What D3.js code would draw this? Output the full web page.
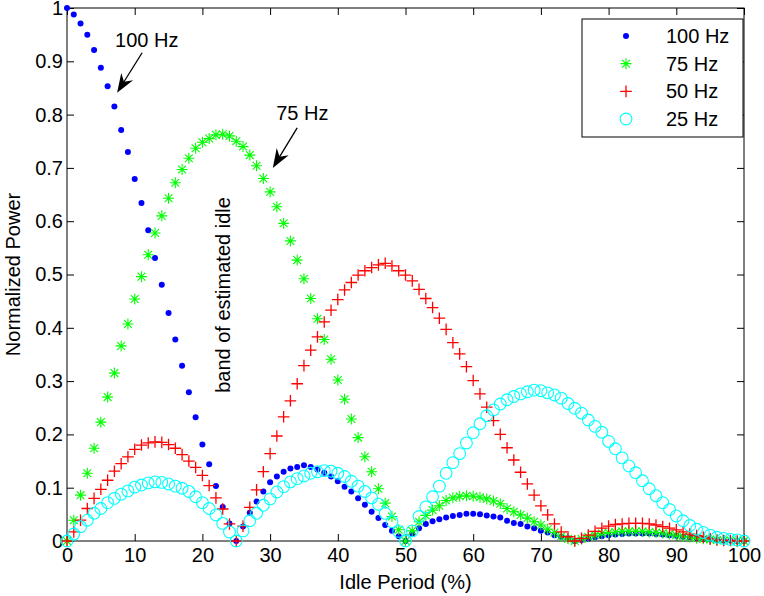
<!DOCTYPE html>
<html>
<head>
<meta charset="utf-8">
<script src="https://cdn.jsdelivr.net/npm/d3@7"></script>
<style>
  body { margin: 0; background: #fff; }
  svg text { font-family: "Liberation Sans", Arial, Helvetica, sans-serif; fill: #000; }
</style>
</head>
<body>
<svg id="chart" width="764" height="596"></svg>
<script>
// idle period (%) sampled every 1 %
var idle = d3.range(0, 101, 1);

var p100 = [
  1.000, 0.988, 0.971, 0.950, 0.921, 0.888, 0.853, 0.815, 0.771, 0.730,
  0.679, 0.634, 0.583, 0.531, 0.481, 0.428, 0.378, 0.329, 0.279, 0.232,
  0.181, 0.144, 0.103, 0.064, 0.033, 0.000, 0.027, 0.053, 0.074, 0.093,
  0.110, 0.121, 0.130, 0.136, 0.139, 0.142, 0.139, 0.134, 0.128, 0.121,
  0.112, 0.102, 0.093, 0.080, 0.068, 0.055, 0.043, 0.030, 0.019, 0.009,
  0.000, 0.014, 0.024, 0.032, 0.037, 0.041, 0.044, 0.047, 0.049, 0.051,
  0.051, 0.050, 0.048, 0.046, 0.044, 0.038, 0.034, 0.032, 0.027, 0.024,
  0.019, 0.016, 0.011, 0.008, 0.005, 0.000, 0.002, 0.004, 0.007, 0.009,
  0.011, 0.012, 0.013, 0.014, 0.014, 0.014, 0.014, 0.013, 0.012, 0.011,
  0.010, 0.008, 0.007, 0.005, 0.004, 0.003, 0.002, 0.001, 0.001, 0.000,
  0.000
];

var p75 = [
  0.000, 0.039, 0.086, 0.127, 0.174, 0.223, 0.270, 0.315, 0.366, 0.407,
  0.454, 0.496, 0.537, 0.578, 0.610, 0.643, 0.672, 0.697, 0.718, 0.737,
  0.748, 0.755, 0.762, 0.763, 0.760, 0.750, 0.740, 0.724, 0.704, 0.680,
  0.655, 0.627, 0.596, 0.563, 0.527, 0.492, 0.455, 0.417, 0.378, 0.341,
  0.302, 0.266, 0.229, 0.194, 0.158, 0.130, 0.098, 0.071, 0.046, 0.021,
  0.000, 0.019, 0.036, 0.048, 0.058, 0.066, 0.076, 0.081, 0.084, 0.085,
  0.084, 0.082, 0.079, 0.075, 0.070, 0.061, 0.055, 0.049, 0.043, 0.036,
  0.030, 0.022, 0.016, 0.009, 0.004, 0.000, 0.004, 0.008, 0.011, 0.014,
  0.016, 0.017, 0.018, 0.018, 0.018, 0.018, 0.017, 0.016, 0.015, 0.013,
  0.011, 0.009, 0.007, 0.005, 0.004, 0.003, 0.002, 0.001, 0.001, 0.000,
  0.000
];

var p50 = [
  0.000, 0.017, 0.039, 0.061, 0.080, 0.097, 0.114, 0.131, 0.145, 0.158,
  0.172, 0.180, 0.184, 0.186, 0.185, 0.181, 0.174, 0.162, 0.150, 0.138,
  0.123, 0.104, 0.081, 0.060, 0.032, 0.000, 0.028, 0.063, 0.096, 0.130,
  0.164, 0.197, 0.233, 0.263, 0.295, 0.329, 0.358, 0.383, 0.411, 0.433,
  0.453, 0.471, 0.485, 0.499, 0.507, 0.513, 0.518, 0.521, 0.516, 0.507,
  0.499, 0.488, 0.472, 0.455, 0.438, 0.418, 0.397, 0.372, 0.351, 0.327,
  0.301, 0.276, 0.251, 0.226, 0.200, 0.175, 0.152, 0.129, 0.107, 0.086,
  0.066, 0.049, 0.032, 0.017, 0.008, 0.000, 0.005, 0.011, 0.018, 0.024,
  0.028, 0.031, 0.032, 0.033, 0.033, 0.033, 0.032, 0.030, 0.027, 0.024,
  0.021, 0.017, 0.013, 0.010, 0.007, 0.004, 0.002, 0.001, 0.001, 0.000,
  0.000
];

var p25 = [
  0.000, 0.013, 0.027, 0.039, 0.052, 0.061, 0.072, 0.080, 0.088, 0.094,
  0.101, 0.105, 0.109, 0.111, 0.110, 0.107, 0.103, 0.099, 0.093, 0.083,
  0.072, 0.061, 0.049, 0.033, 0.017, 0.000, 0.019, 0.038, 0.052, 0.067,
  0.079, 0.092, 0.102, 0.111, 0.117, 0.122, 0.127, 0.130, 0.132, 0.131,
  0.127, 0.121, 0.112, 0.103, 0.093, 0.081, 0.069, 0.052, 0.036, 0.018,
  0.000, 0.019, 0.046, 0.064, 0.083, 0.103, 0.127, 0.147, 0.164, 0.184,
  0.203, 0.220, 0.235, 0.246, 0.257, 0.265, 0.271, 0.276, 0.280, 0.283,
  0.282, 0.278, 0.274, 0.268, 0.258, 0.249, 0.240, 0.227, 0.215, 0.204,
  0.187, 0.173, 0.156, 0.141, 0.128, 0.113, 0.098, 0.085, 0.072, 0.059,
  0.047, 0.038, 0.029, 0.022, 0.016, 0.011, 0.007, 0.005, 0.003, 0.002,
  0.000
];

var seriesNames = ["100 Hz", "75 Hz", "50 Hz", "25 Hz"];
var xTicks = [0, 10, 20, 30, 40, 50, 60, 70, 80, 90, 100];
var yTicks = [0, 0.1, 0.2, 0.3, 0.4, 0.5, 0.6, 0.7, 0.8, 0.9, 1];

var series = [
  { name: seriesNames[0], values: p100, shape: "dot", color: "#0000ff" },
  { name: seriesNames[1], values: p75, shape: "star", color: "#00ff00" },
  { name: seriesNames[2], values: p50, shape: "plus", color: "#ff0000" },
  { name: seriesNames[3], values: p25, shape: "ring", color: "#00ffff" }
];

var plotLeft = 67, plotRight = 744, plotTop = 8, plotBottom = 541;
var tickLen = 7;

var x = d3.scaleLinear().domain([0, 100]).range([plotLeft, plotRight]);
var y = d3.scaleLinear().domain([0, 1]).range([plotBottom, plotTop]);

var svg = d3.select("#chart");
svg.append("rect").attr("width", 764).attr("height", 596).attr("fill", "#fff");

// axes: ticks point inward on all four sides, like matlab
svg.append("g")
  .attr("transform", "translate(0," + plotBottom + ")")
  .call(d3.axisBottom(x).tickValues(xTicks).tickSize(-tickLen).tickPadding(7))
  .call(function (g) { g.select(".domain").remove(); });
svg.append("g")
  .attr("transform", "translate(0," + plotTop + ")")
  .call(d3.axisTop(x).tickValues(xTicks).tickSize(-tickLen).tickFormat(""))
  .call(function (g) { g.select(".domain").remove(); });
svg.append("g")
  .attr("transform", "translate(" + plotLeft + ",0)")
  .call(d3.axisLeft(y).tickValues(yTicks).tickSize(-tickLen).tickPadding(4)
    .tickFormat(function (d) { return String(d); }))
  .call(function (g) { g.select(".domain").remove(); });
svg.append("g")
  .attr("transform", "translate(" + plotRight + ",0)")
  .call(d3.axisRight(y).tickValues(yTicks).tickSize(-tickLen).tickFormat(""))
  .call(function (g) { g.select(".domain").remove(); });

svg.selectAll(".tick text").style("font-size", "20px").attr("fill", "#000");
svg.selectAll(".tick line").attr("stroke", "#000");

svg.append("rect")
  .attr("x", plotLeft).attr("y", plotTop)
  .attr("width", plotRight - plotLeft).attr("height", plotBottom - plotTop)
  .attr("fill", "none").attr("stroke", "#000").attr("stroke-width", 1);

function drawMarker(sel, shape, color) {
  if (shape === "dot") {
    sel.append("circle").attr("r", 3).attr("fill", color);
  } else if (shape === "star") {
    sel.append("path")
      .attr("d", "M-5.5,0H5.5M0,-5.5V5.5M-3.9,-3.9L3.9,3.9M-3.9,3.9L3.9,-3.9")
      .attr("stroke", color).attr("stroke-width", 1.1).attr("fill", "none");
  } else if (shape === "plus") {
    sel.append("path")
      .attr("d", "M-5.8,0H5.8M0,-5.8V5.8")
      .attr("stroke", color).attr("stroke-width", 1.3).attr("fill", "none");
  } else {
    sel.append("circle").attr("r", 5.9)
      .attr("fill", "none").attr("stroke", color).attr("stroke-width", 1.1);
  }
}

series.forEach(function (s) {
  var g = svg.append("g").attr("class", "series");
  g.selectAll("g")
    .data(idle)
    .enter()
    .append("g")
    .attr("transform", function (d, i) {
      return "translate(" + x(d) + "," + y(s.values[i]) + ")";
    })
    .each(function () { drawMarker(d3.select(this), s.shape, s.color); });
});

// axis labels
svg.append("text")
  .attr("x", (plotLeft + plotRight) / 2).attr("y", 589)
  .attr("text-anchor", "middle").style("font-size", "20px")
  .text("Idle Period (%)");
svg.append("text")
  .attr("transform", "translate(20," + (plotTop + plotBottom) / 2 + ")rotate(-90)")
  .attr("text-anchor", "middle").style("font-size", "20px")
  .text("Normalized Power");

// annotations (data coordinates)
var notes = [
  { label: "100 Hz", tx: 7.1, ty: 0.927, from: [11.1, 0.916], to: [7.4, 0.841] },
  { label: "75 Hz", tx: 30.9, ty: 0.790, from: [34.0, 0.775], to: [30.4, 0.700] }
];

notes.forEach(function (n) {
  svg.append("text")
    .attr("x", x(n.tx)).attr("y", y(n.ty))
    .style("font-size", "20px")
    .text(n.label);
  var x0 = x(n.from[0]), y0 = y(n.from[1]);
  var x1 = x(n.to[0]), y1 = y(n.to[1]);
  var ang = Math.atan2(y1 - y0, x1 - x0) * 180 / Math.PI;
  var len = Math.hypot(x1 - x0, y1 - y0);
  var a = svg.append("g")
    .attr("transform", "translate(" + x0 + "," + y0 + ")rotate(" + ang + ")");
  a.append("line")
    .attr("x1", 0).attr("y1", 0).attr("x2", len - 10).attr("y2", 0)
    .attr("stroke", "#000").attr("stroke-width", 1.3);
  a.append("path")
    .attr("d", "M" + len + ",0L" + (len - 19) + ",-7L" + (len - 13) + ",0L" + (len - 19) + ",7Z")
    .attr("fill", "#000");
});

svg.append("text")
  .attr("transform", "translate(" + x(24.1) + "," + y(0.4615) + ")rotate(-90)")
  .attr("text-anchor", "middle").style("font-size", "20px")
  .text("band of estimated idle");

// legend
var legend = svg.append("g");
legend.append("rect")
  .attr("x", 582).attr("y", 19).attr("width", 161).attr("height", 118)
  .attr("fill", "#fff").attr("stroke", "#000").attr("stroke-width", 1);
var rowY = d3.scalePoint().domain(seriesNames).range([36, 119]);
series.forEach(function (s) {
  var row = legend.append("g").attr("transform", "translate(0," + rowY(s.name) + ")");
  drawMarker(row.append("g").attr("transform", "translate(626,0)"), s.shape, s.color);
  row.append("text")
    .attr("x", 666).attr("y", 7)
    .style("font-size", "20px")
    .text(s.name);
});
</script>
</body>
</html>
